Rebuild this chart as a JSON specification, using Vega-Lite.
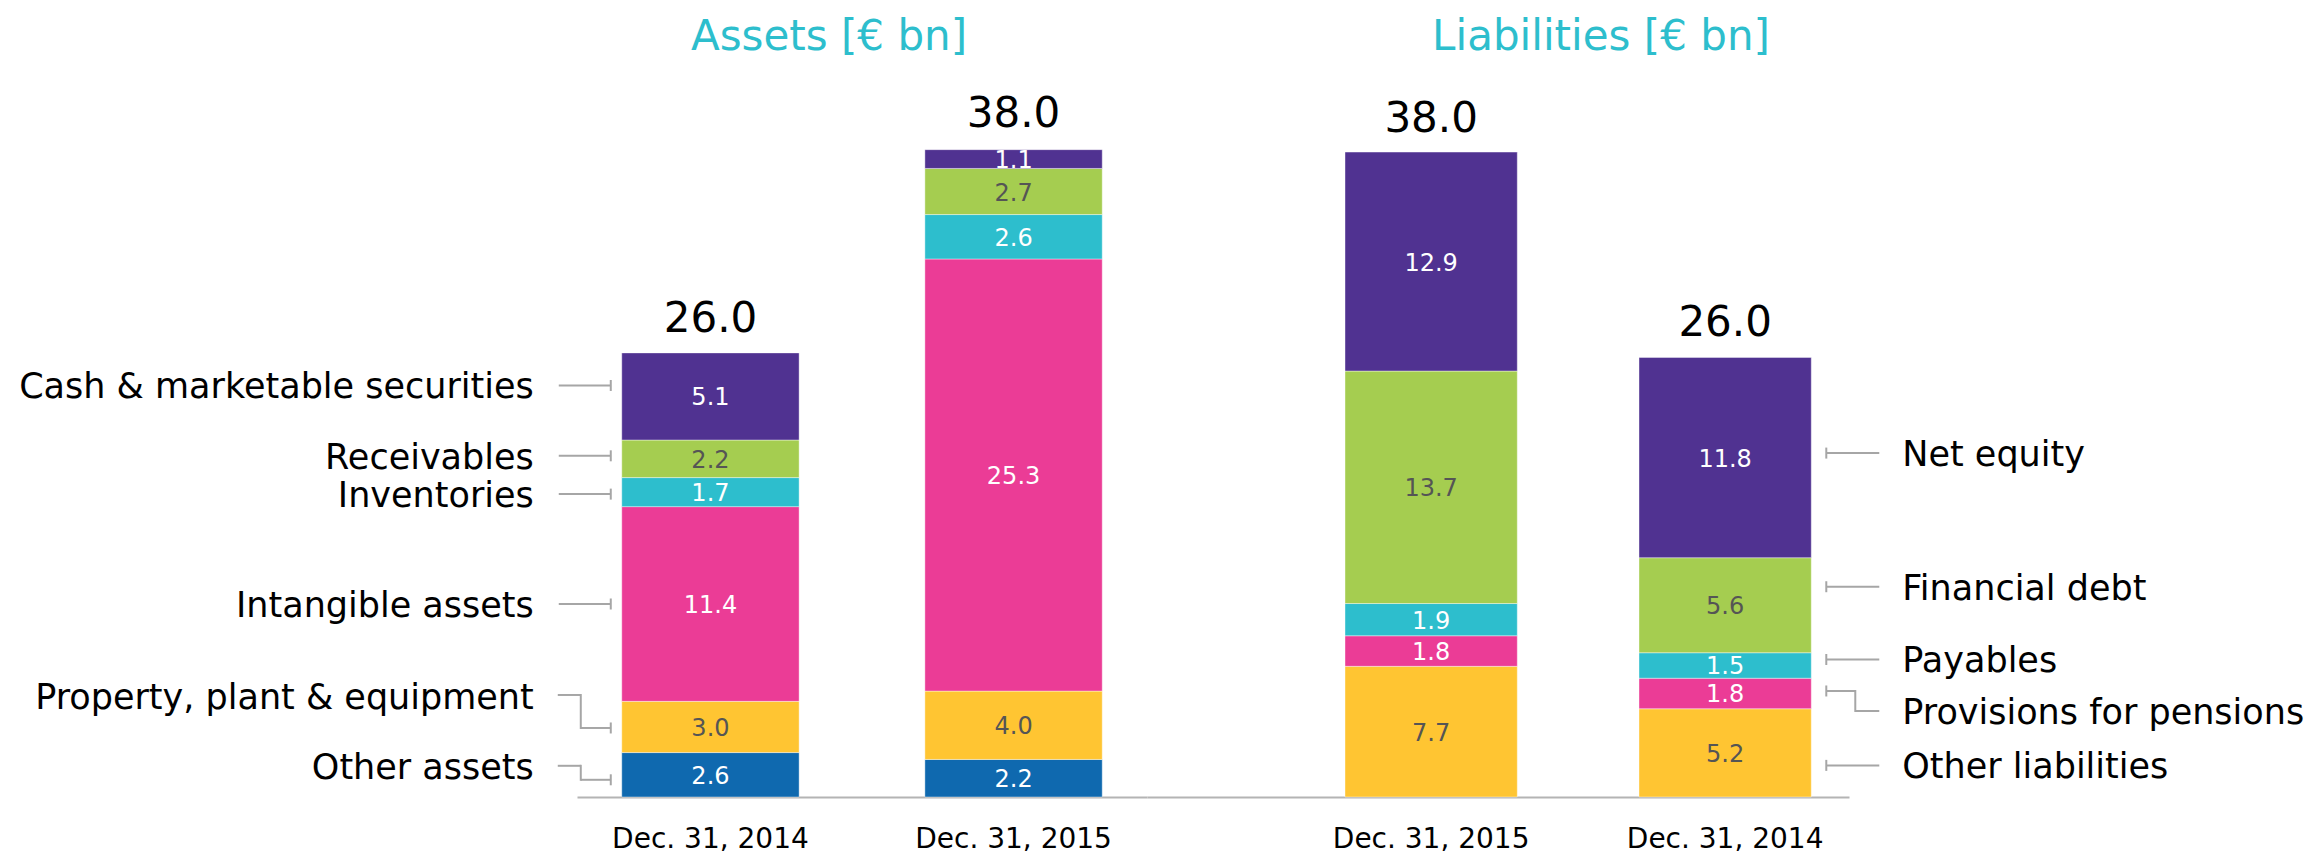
{
  "$schema": "https://vega.github.io/schema/vega-lite/v6.json",
  "background": "white",
  "padding": {"left": 19, "top": 16, "right": 2, "bottom": 2},
  "config": {
    "view": {"stroke": null},
    "font": "DejaVu Sans",
    "text": {"font": "DejaVu Sans"},
    "title": {"font": "DejaVu Sans"},
    "axis": {"labelFont": "DejaVu Sans"}
  },
  "datasets": {
    "assets": [
      {"date": "Dec. 31, 2014", "item": "Other assets", "value": 2.6},
      {"date": "Dec. 31, 2014", "item": "Property, plant & equipment", "value": 3.0},
      {"date": "Dec. 31, 2014", "item": "Intangible assets", "value": 11.4},
      {"date": "Dec. 31, 2014", "item": "Inventories", "value": 1.7},
      {"date": "Dec. 31, 2014", "item": "Receivables", "value": 2.2},
      {"date": "Dec. 31, 2014", "item": "Cash & marketable securities", "value": 5.1},
      {"date": "Dec. 31, 2015", "item": "Other assets", "value": 2.2},
      {"date": "Dec. 31, 2015", "item": "Property, plant & equipment", "value": 4.0},
      {"date": "Dec. 31, 2015", "item": "Intangible assets", "value": 25.3},
      {"date": "Dec. 31, 2015", "item": "Inventories", "value": 2.6},
      {"date": "Dec. 31, 2015", "item": "Receivables", "value": 2.7},
      {"date": "Dec. 31, 2015", "item": "Cash & marketable securities", "value": 1.1}
    ],
    "liabilities": [
      {"date": "Dec. 31, 2015", "item": "Other liabilities", "value": 7.7},
      {"date": "Dec. 31, 2015", "item": "Provisions for pensions", "value": 1.8},
      {"date": "Dec. 31, 2015", "item": "Payables", "value": 1.9},
      {"date": "Dec. 31, 2015", "item": "Financial debt", "value": 13.7},
      {"date": "Dec. 31, 2015", "item": "Net equity", "value": 12.9},
      {"date": "Dec. 31, 2014", "item": "Other liabilities", "value": 5.2},
      {"date": "Dec. 31, 2014", "item": "Provisions for pensions", "value": 1.8},
      {"date": "Dec. 31, 2014", "item": "Payables", "value": 1.5},
      {"date": "Dec. 31, 2014", "item": "Financial debt", "value": 5.6},
      {"date": "Dec. 31, 2014", "item": "Net equity", "value": 11.8}
    ],
    "asset_totals": [
      {"date": "Dec. 31, 2014", "total": 26.0},
      {"date": "Dec. 31, 2015", "total": 38.0}
    ],
    "liability_totals": [
      {"date": "Dec. 31, 2015", "total": 38.0},
      {"date": "Dec. 31, 2014", "total": 26.0}
    ]
  },
  "spacing": 0,
  "bounds": "flush",
  "resolve": {"scale": {"x": "independent", "y": "independent", "color": "shared"}},
  "hconcat": [
    {
      "width": 570,
      "height": 716,
      "title": {"text": "Assets [€ bn]", "fontSize": 42, "fontWeight": "normal", "color": "#2DBECD", "anchor": "middle", "dx": -33, "offset": 22},
      "data": {"name": "assets"},
      "transform": [
        {"window": [{"op": "row_number", "as": "rank"}], "groupby": ["date"]},
        {"stack": "value", "groupby": ["date"], "sort": [{"field": "rank", "order": "ascending"}], "as": ["v0", "v1"]},
        {"calculate": "(datum.v0 + datum.v1) / 2", "as": "mid"}
      ],
      "layer": [
        {
          "mark": {"type": "bar", "stroke": "#ffffff", "strokeWidth": 1, "strokeOpacity": 0.4},
          "encoding": {
            "x": {"field": "date", "type": "nominal", "sort": null, "title": null,
                  "scale": {"type": "band", "domain": ["Dec. 31, 2014", "Dec. 31, 2015"], "paddingInner": 0.4149, "paddingOuter": 0.1477},
                  "axis": {"title": null, "ticks": false, "grid": false, "labelAngle": 0, "labelFontSize": 28, "labelColor": "#000000", "labelPadding": 28, "labelLimit": 0, "domainColor": "#b4b4b4", "domainWidth": 2}},
            "y": {"field": "v0", "type": "quantitative", "scale": {"domain": [0, 41.92], "nice": false, "zero": true}, "axis": null},
            "y2": {"field": "v1"},
            "color": {"field": "item", "type": "nominal", "legend": null,
                      "scale": {"domain": ["Other assets", "Property, plant & equipment", "Intangible assets", "Inventories", "Receivables", "Cash & marketable securities", "Other liabilities", "Provisions for pensions", "Payables", "Financial debt", "Net equity"],
                                "range": ["#0F69AF", "#FFC532", "#EB3C96", "#2DBECD", "#A5CD50", "#503291", "#FFC532", "#EB3C96", "#2DBECD", "#A5CD50", "#503291"]}}
          }
        },
        {
          "mark": {"type": "text", "fontSize": 24, "baseline": "middle", "align": "center", "dy": 2},
          "encoding": {
            "x": {"field": "date", "type": "nominal", "title": null, "scale": {"type": "band", "domain": ["Dec. 31, 2014", "Dec. 31, 2015"], "paddingInner": 0.4149, "paddingOuter": 0.1477}},
            "y": {"field": "mid", "type": "quantitative", "scale": {"domain": [0, 41.92], "nice": false, "zero": true}, "axis": null},
            "text": {"field": "value", "type": "quantitative", "format": ".1f"},
            "color": {"condition": {"test": "indexof(['Receivables', 'Property, plant & equipment'], datum.item) >= 0", "value": "#555555"}, "value": "#ffffff"}
          }
        },
        {
          "data": {"name": "asset_totals"},
          "mark": {"type": "text", "fontSize": 42, "baseline": "alphabetic", "align": "center", "dy": -21, "color": "#000000"},
          "encoding": {
            "x": {"field": "date", "type": "nominal", "title": null, "scale": {"type": "band", "domain": ["Dec. 31, 2014", "Dec. 31, 2015"], "paddingInner": 0.4149, "paddingOuter": 0.1477}},
            "y": {"field": "total", "type": "quantitative", "scale": {"domain": [0, 41.92], "nice": false, "zero": true}, "axis": null},
            "text": {"field": "total", "type": "quantitative", "format": ".1f"}
          }
        },
        {
          "transform": [{"filter": "datum.date === 'Dec. 31, 2014'"}],
          "mark": {"type": "rule", "color": "#a6a6a6", "strokeWidth": 2, "xOffset": -11,
                   "yOffset": {"expr": "(datum.item === 'Cash & marketable securities' ? -11 : datum.item === 'Receivables' ? -3 : datum.item === 'Inventories' ? 2 : datum.item === 'Other assets' ? 5 : datum.item === 'Property, plant & equipment' ? 1 : 0) - 5.5"},
                   "y2Offset": {"expr": "(datum.item === 'Cash & marketable securities' ? -11 : datum.item === 'Receivables' ? -3 : datum.item === 'Inventories' ? 2 : datum.item === 'Other assets' ? 5 : datum.item === 'Property, plant & equipment' ? 1 : 0) + 5.5"}},
          "encoding": {
            "x": {"field": "date", "type": "nominal", "title": null, "bandPosition": 0, "scale": {"type": "band", "domain": ["Dec. 31, 2014", "Dec. 31, 2015"], "paddingInner": 0.4149, "paddingOuter": 0.1477}},
            "y": {"field": "mid", "type": "quantitative", "scale": {"domain": [0, 41.92], "nice": false, "zero": true}, "axis": null},
            "y2": {"field": "mid"}
          }
        },
        {
          "transform": [{"filter": "datum.date === 'Dec. 31, 2014' && indexof(['Cash & marketable securities', 'Receivables', 'Inventories', 'Intangible assets'], datum.item) >= 0"}],
          "mark": {"type": "rule", "color": "#a6a6a6", "strokeWidth": 2, "xOffset": -63, "x2Offset": -11,
                   "yOffset": {"expr": "datum.item === 'Cash & marketable securities' ? -11 : datum.item === 'Receivables' ? -3 : datum.item === 'Inventories' ? 2 : 0"}},
          "encoding": {
            "x": {"field": "date", "type": "nominal", "title": null, "bandPosition": 0, "scale": {"type": "band", "domain": ["Dec. 31, 2014", "Dec. 31, 2015"], "paddingInner": 0.4149, "paddingOuter": 0.1477}},
            "x2": {"field": "date", "bandPosition": 0},
            "y": {"field": "mid", "type": "quantitative", "scale": {"domain": [0, 41.92], "nice": false, "zero": true}, "axis": null}
          }
        },
        {
          "transform": [{"filter": "datum.date === 'Dec. 31, 2014' && indexof(['Cash & marketable securities', 'Receivables', 'Inventories', 'Intangible assets'], datum.item) >= 0"}],
          "mark": {"type": "text", "fontSize": 35, "baseline": "middle", "align": "right", "dx": -88, "color": "#000000",
                   "dy": {"expr": "(datum.item === 'Cash & marketable securities' ? -11 : datum.item === 'Receivables' ? -3 : datum.item === 'Inventories' ? 2 : 0) + 2"}},
          "encoding": {
            "x": {"field": "date", "type": "nominal", "title": null, "bandPosition": 0, "scale": {"type": "band", "domain": ["Dec. 31, 2014", "Dec. 31, 2015"], "paddingInner": 0.4149, "paddingOuter": 0.1477}},
            "y": {"field": "mid", "type": "quantitative", "scale": {"domain": [0, 41.92], "nice": false, "zero": true}, "axis": null},
            "text": {"field": "item", "type": "nominal"}
          }
        },
        {
          "transform": [{"filter": "datum.date === 'Dec. 31, 2014' && datum.item === 'Property, plant & equipment'"}],
          "mark": {"type": "rule", "color": "#a6a6a6", "strokeWidth": 2, "xOffset": -41, "x2Offset": -11, "yOffset": 1},
          "encoding": {
            "x": {"field": "date", "type": "nominal", "title": null, "bandPosition": 0, "scale": {"type": "band", "domain": ["Dec. 31, 2014", "Dec. 31, 2015"], "paddingInner": 0.4149, "paddingOuter": 0.1477}},
            "x2": {"field": "date", "bandPosition": 0},
            "y": {"field": "mid", "type": "quantitative", "scale": {"domain": [0, 41.92], "nice": false, "zero": true}, "axis": null}
          }
        },
        {
          "transform": [{"filter": "datum.date === 'Dec. 31, 2014' && datum.item === 'Property, plant & equipment'"}],
          "mark": {"type": "text", "fontSize": 35, "baseline": "middle", "align": "right", "dx": -88, "dy": -29, "color": "#000000"},
          "encoding": {
            "x": {"field": "date", "type": "nominal", "title": null, "bandPosition": 0, "scale": {"type": "band", "domain": ["Dec. 31, 2014", "Dec. 31, 2015"], "paddingInner": 0.4149, "paddingOuter": 0.1477}},
            "y": {"field": "mid", "type": "quantitative", "scale": {"domain": [0, 41.92], "nice": false, "zero": true}, "axis": null},
            "text": {"field": "item", "type": "nominal"}
          }
        },
        {
          "transform": [{"filter": "datum.date === 'Dec. 31, 2014' && datum.item === 'Property, plant & equipment'"}],
          "mark": {"type": "rule", "color": "#a6a6a6", "strokeWidth": 2, "xOffset": -64, "x2Offset": -41, "yOffset": -32},
          "encoding": {
            "x": {"field": "date", "type": "nominal", "title": null, "bandPosition": 0, "scale": {"type": "band", "domain": ["Dec. 31, 2014", "Dec. 31, 2015"], "paddingInner": 0.4149, "paddingOuter": 0.1477}},
            "x2": {"field": "date", "bandPosition": 0},
            "y": {"field": "mid", "type": "quantitative", "scale": {"domain": [0, 41.92], "nice": false, "zero": true}, "axis": null}
          }
        },
        {
          "transform": [{"filter": "datum.date === 'Dec. 31, 2014' && datum.item === 'Property, plant & equipment'"}],
          "mark": {"type": "rule", "color": "#a6a6a6", "strokeWidth": 2, "xOffset": -41, "yOffset": -33, "y2Offset": 2},
          "encoding": {
            "x": {"field": "date", "type": "nominal", "title": null, "bandPosition": 0, "scale": {"type": "band", "domain": ["Dec. 31, 2014", "Dec. 31, 2015"], "paddingInner": 0.4149, "paddingOuter": 0.1477}},
            "y": {"field": "mid", "type": "quantitative", "scale": {"domain": [0, 41.92], "nice": false, "zero": true}, "axis": null},
            "y2": {"field": "mid"}
          }
        },
        {
          "transform": [{"filter": "datum.date === 'Dec. 31, 2014' && datum.item === 'Other assets'"}],
          "mark": {"type": "rule", "color": "#a6a6a6", "strokeWidth": 2, "xOffset": -41, "x2Offset": -11, "yOffset": 5},
          "encoding": {
            "x": {"field": "date", "type": "nominal", "title": null, "bandPosition": 0, "scale": {"type": "band", "domain": ["Dec. 31, 2014", "Dec. 31, 2015"], "paddingInner": 0.4149, "paddingOuter": 0.1477}},
            "x2": {"field": "date", "bandPosition": 0},
            "y": {"field": "mid", "type": "quantitative", "scale": {"domain": [0, 41.92], "nice": false, "zero": true}, "axis": null}
          }
        },
        {
          "transform": [{"filter": "datum.date === 'Dec. 31, 2014' && datum.item === 'Other assets'"}],
          "mark": {"type": "text", "fontSize": 35, "baseline": "middle", "align": "right", "dx": -88, "dy": -7, "color": "#000000"},
          "encoding": {
            "x": {"field": "date", "type": "nominal", "title": null, "bandPosition": 0, "scale": {"type": "band", "domain": ["Dec. 31, 2014", "Dec. 31, 2015"], "paddingInner": 0.4149, "paddingOuter": 0.1477}},
            "y": {"field": "mid", "type": "quantitative", "scale": {"domain": [0, 41.92], "nice": false, "zero": true}, "axis": null},
            "text": {"field": "item", "type": "nominal"}
          }
        },
        {
          "transform": [{"filter": "datum.date === 'Dec. 31, 2014' && datum.item === 'Other assets'"}],
          "mark": {"type": "rule", "color": "#a6a6a6", "strokeWidth": 2, "xOffset": -64, "x2Offset": -41, "yOffset": -9},
          "encoding": {
            "x": {"field": "date", "type": "nominal", "title": null, "bandPosition": 0, "scale": {"type": "band", "domain": ["Dec. 31, 2014", "Dec. 31, 2015"], "paddingInner": 0.4149, "paddingOuter": 0.1477}},
            "x2": {"field": "date", "bandPosition": 0},
            "y": {"field": "mid", "type": "quantitative", "scale": {"domain": [0, 41.92], "nice": false, "zero": true}, "axis": null}
          }
        },
        {
          "transform": [{"filter": "datum.date === 'Dec. 31, 2014' && datum.item === 'Other assets'"}],
          "mark": {"type": "rule", "color": "#a6a6a6", "strokeWidth": 2, "xOffset": -41, "yOffset": -10, "y2Offset": 6},
          "encoding": {
            "x": {"field": "date", "type": "nominal", "title": null, "bandPosition": 0, "scale": {"type": "band", "domain": ["Dec. 31, 2014", "Dec. 31, 2015"], "paddingInner": 0.4149, "paddingOuter": 0.1477}},
            "y": {"field": "mid", "type": "quantitative", "scale": {"domain": [0, 41.92], "nice": false, "zero": true}, "axis": null},
            "y2": {"field": "mid"}
          }
        }
      ]
    },
    {
      "width": 702,
      "height": 716,
      "title": {"text": "Liabilities [€ bn]", "fontSize": 42, "fontWeight": "normal", "color": "#2DBECD", "anchor": "middle", "dx": 103, "offset": 22},
      "data": {"name": "liabilities"},
      "transform": [
        {"window": [{"op": "row_number", "as": "rank"}], "groupby": ["date"]},
        {"stack": "value", "groupby": ["date"], "sort": [{"field": "rank", "order": "ascending"}], "as": ["v0", "v1"]},
        {"calculate": "(datum.v0 + datum.v1) / 2", "as": "mid"}
      ],
      "layer": [
        {
          "mark": {"type": "bar", "stroke": "#ffffff", "strokeWidth": 1, "strokeOpacity": 0.4},
          "encoding": {
            "x": {"field": "date", "type": "nominal", "sort": null, "title": null,
                  "scale": {"type": "band", "domain": ["Dec. 31, 2015", "Dec. 31, 2014"], "paddingInner": 0.414, "paddingOuter": 0.4009, "align": 0.84},
                  "axis": {"title": null, "ticks": false, "grid": false, "labelAngle": 0, "labelFontSize": 28, "labelColor": "#000000", "labelPadding": 28, "labelLimit": 0, "domainColor": "#b4b4b4", "domainWidth": 2}},
            "y": {"field": "v0", "type": "quantitative", "scale": {"domain": [0, 42.19], "nice": false, "zero": true}, "axis": null},
            "y2": {"field": "v1"},
            "color": {"field": "item", "type": "nominal", "legend": null,
                      "scale": {"domain": ["Other assets", "Property, plant & equipment", "Intangible assets", "Inventories", "Receivables", "Cash & marketable securities", "Other liabilities", "Provisions for pensions", "Payables", "Financial debt", "Net equity"],
                                "range": ["#0F69AF", "#FFC532", "#EB3C96", "#2DBECD", "#A5CD50", "#503291", "#FFC532", "#EB3C96", "#2DBECD", "#A5CD50", "#503291"]}}
          }
        },
        {
          "mark": {"type": "text", "fontSize": 24, "baseline": "middle", "align": "center", "dy": 2},
          "encoding": {
            "x": {"field": "date", "type": "nominal", "title": null, "scale": {"type": "band", "domain": ["Dec. 31, 2015", "Dec. 31, 2014"], "paddingInner": 0.414, "paddingOuter": 0.4009, "align": 0.84}},
            "y": {"field": "mid", "type": "quantitative", "scale": {"domain": [0, 42.19], "nice": false, "zero": true}, "axis": null},
            "text": {"field": "value", "type": "quantitative", "format": ".1f"},
            "color": {"condition": {"test": "indexof(['Financial debt', 'Other liabilities'], datum.item) >= 0", "value": "#555555"}, "value": "#ffffff"}
          }
        },
        {
          "data": {"name": "liability_totals"},
          "mark": {"type": "text", "fontSize": 42, "baseline": "alphabetic", "align": "center", "dy": -20, "color": "#000000"},
          "encoding": {
            "x": {"field": "date", "type": "nominal", "title": null, "scale": {"type": "band", "domain": ["Dec. 31, 2015", "Dec. 31, 2014"], "paddingInner": 0.414, "paddingOuter": 0.4009, "align": 0.84}},
            "y": {"field": "total", "type": "quantitative", "scale": {"domain": [0, 42.19], "nice": false, "zero": true}, "axis": null},
            "text": {"field": "total", "type": "quantitative", "format": ".1f"}
          }
        },
        {
          "transform": [{"filter": "datum.date === 'Dec. 31, 2014'"}],
          "mark": {"type": "rule", "color": "#a6a6a6", "strokeWidth": 2, "xOffset": 15,
                   "yOffset": {"expr": "(datum.item === 'Net equity' ? -4.5 : datum.item === 'Financial debt' ? -18.5 : datum.item === 'Payables' ? -6 : datum.item === 'Provisions for pensions' ? -2.5 : 12.5) - 5.5"},
                   "y2Offset": {"expr": "(datum.item === 'Net equity' ? -4.5 : datum.item === 'Financial debt' ? -18.5 : datum.item === 'Payables' ? -6 : datum.item === 'Provisions for pensions' ? -2.5 : 12.5) + 5.5"}},
          "encoding": {
            "x": {"field": "date", "type": "nominal", "title": null, "bandPosition": 1, "scale": {"type": "band", "domain": ["Dec. 31, 2015", "Dec. 31, 2014"], "paddingInner": 0.414, "paddingOuter": 0.4009, "align": 0.84}},
            "y": {"field": "mid", "type": "quantitative", "scale": {"domain": [0, 42.19], "nice": false, "zero": true}, "axis": null},
            "y2": {"field": "mid"}
          }
        },
        {
          "transform": [{"filter": "datum.date === 'Dec. 31, 2014' && datum.item !== 'Provisions for pensions'"}],
          "mark": {"type": "rule", "color": "#a6a6a6", "strokeWidth": 2, "xOffset": 15, "x2Offset": 68,
                   "yOffset": {"expr": "datum.item === 'Net equity' ? -4.5 : datum.item === 'Financial debt' ? -18.5 : datum.item === 'Payables' ? -6 : 12.5"}},
          "encoding": {
            "x": {"field": "date", "type": "nominal", "title": null, "bandPosition": 1, "scale": {"type": "band", "domain": ["Dec. 31, 2015", "Dec. 31, 2014"], "paddingInner": 0.414, "paddingOuter": 0.4009, "align": 0.84}},
            "x2": {"field": "date", "bandPosition": 1},
            "y": {"field": "mid", "type": "quantitative", "scale": {"domain": [0, 42.19], "nice": false, "zero": true}, "axis": null}
          }
        },
        {
          "transform": [{"filter": "datum.date === 'Dec. 31, 2014' && datum.item !== 'Provisions for pensions'"}],
          "mark": {"type": "text", "fontSize": 35, "baseline": "middle", "align": "left", "dx": 91, "color": "#000000",
                   "dy": {"expr": "(datum.item === 'Net equity' ? -4.5 : datum.item === 'Financial debt' ? -18.5 : datum.item === 'Payables' ? -6 : 12.5) + 2"}},
          "encoding": {
            "x": {"field": "date", "type": "nominal", "title": null, "bandPosition": 1, "scale": {"type": "band", "domain": ["Dec. 31, 2015", "Dec. 31, 2014"], "paddingInner": 0.414, "paddingOuter": 0.4009, "align": 0.84}},
            "y": {"field": "mid", "type": "quantitative", "scale": {"domain": [0, 42.19], "nice": false, "zero": true}, "axis": null},
            "text": {"field": "item", "type": "nominal"}
          }
        },
        {
          "transform": [{"filter": "datum.date === 'Dec. 31, 2014' && datum.item === 'Provisions for pensions'"}],
          "mark": {"type": "rule", "color": "#a6a6a6", "strokeWidth": 2, "xOffset": 15, "x2Offset": 44, "yOffset": -2.5},
          "encoding": {
            "x": {"field": "date", "type": "nominal", "title": null, "bandPosition": 1, "scale": {"type": "band", "domain": ["Dec. 31, 2015", "Dec. 31, 2014"], "paddingInner": 0.414, "paddingOuter": 0.4009, "align": 0.84}},
            "x2": {"field": "date", "bandPosition": 1},
            "y": {"field": "mid", "type": "quantitative", "scale": {"domain": [0, 42.19], "nice": false, "zero": true}, "axis": null}
          }
        },
        {
          "transform": [{"filter": "datum.date === 'Dec. 31, 2014' && datum.item === 'Provisions for pensions'"}],
          "mark": {"type": "rule", "color": "#a6a6a6", "strokeWidth": 2, "xOffset": 44, "yOffset": -3.5, "y2Offset": 18.5},
          "encoding": {
            "x": {"field": "date", "type": "nominal", "title": null, "bandPosition": 1, "scale": {"type": "band", "domain": ["Dec. 31, 2015", "Dec. 31, 2014"], "paddingInner": 0.414, "paddingOuter": 0.4009, "align": 0.84}},
            "y": {"field": "mid", "type": "quantitative", "scale": {"domain": [0, 42.19], "nice": false, "zero": true}, "axis": null},
            "y2": {"field": "mid"}
          }
        },
        {
          "transform": [{"filter": "datum.date === 'Dec. 31, 2014' && datum.item === 'Provisions for pensions'"}],
          "mark": {"type": "rule", "color": "#a6a6a6", "strokeWidth": 2, "xOffset": 44, "x2Offset": 68, "yOffset": 17.5},
          "encoding": {
            "x": {"field": "date", "type": "nominal", "title": null, "bandPosition": 1, "scale": {"type": "band", "domain": ["Dec. 31, 2015", "Dec. 31, 2014"], "paddingInner": 0.414, "paddingOuter": 0.4009, "align": 0.84}},
            "x2": {"field": "date", "bandPosition": 1},
            "y": {"field": "mid", "type": "quantitative", "scale": {"domain": [0, 42.19], "nice": false, "zero": true}, "axis": null}
          }
        },
        {
          "transform": [{"filter": "datum.date === 'Dec. 31, 2014' && datum.item === 'Provisions for pensions'"}],
          "mark": {"type": "text", "fontSize": 35, "baseline": "middle", "align": "left", "dx": 91, "dy": 19.5, "color": "#000000"},
          "encoding": {
            "x": {"field": "date", "type": "nominal", "title": null, "bandPosition": 1, "scale": {"type": "band", "domain": ["Dec. 31, 2015", "Dec. 31, 2014"], "paddingInner": 0.414, "paddingOuter": 0.4009, "align": 0.84}},
            "y": {"field": "mid", "type": "quantitative", "scale": {"domain": [0, 42.19], "nice": false, "zero": true}, "axis": null},
            "text": {"field": "item", "type": "nominal"}
          }
        }
      ]
    }
  ]
}
